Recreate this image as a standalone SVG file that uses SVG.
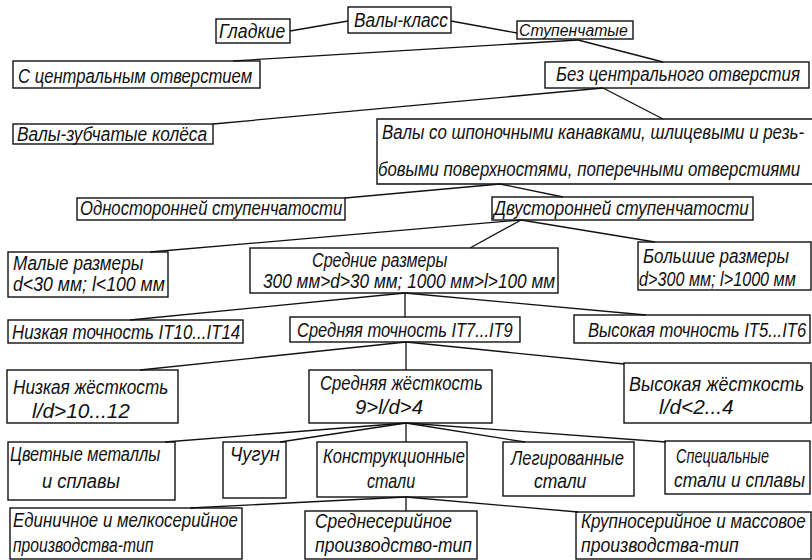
<svg xmlns="http://www.w3.org/2000/svg" width="812" height="560" viewBox="0 0 812 560">
<style>
.b{fill:none;stroke:#111;stroke-width:1.4}
.c line{stroke:#111;stroke-width:1.3}
text{font-family:"Liberation Sans Narrow","Liberation Sans",sans-serif;font-style:italic;font-size:21px;fill:#111}
</style>
<rect width="812" height="560" fill="#fff"/>
<g class="c" id="connectors">
<line x1="290" y1="31" x2="348" y2="21"/>
<line x1="451" y1="21" x2="517" y2="33"/>
<line x1="233" y1="61" x2="578" y2="40"/>
<line x1="578" y1="40" x2="663" y2="62"/>
<line x1="213" y1="124" x2="603" y2="88"/>
<line x1="603" y1="88" x2="663" y2="119"/>
<line x1="345" y1="198" x2="500" y2="184"/>
<line x1="500" y1="184" x2="563" y2="197"/>
<line x1="150" y1="252" x2="521" y2="220"/>
<line x1="521" y1="220" x2="470" y2="248"/>
<line x1="521" y1="220" x2="655" y2="242"/>
<line x1="130" y1="320" x2="405" y2="293"/>
<line x1="405" y1="293" x2="405" y2="317"/>
<line x1="405" y1="293" x2="646" y2="315"/>
<line x1="406" y1="342" x2="140" y2="370"/>
<line x1="406" y1="342" x2="406" y2="370"/>
<line x1="406" y1="342" x2="624" y2="364"/>
<line x1="406" y1="423" x2="165" y2="442"/>
<line x1="406" y1="423" x2="280" y2="442"/>
<line x1="406" y1="423" x2="406" y2="442"/>
<line x1="406" y1="423" x2="525" y2="442"/>
<line x1="406" y1="423" x2="666" y2="442"/>
<line x1="406" y1="497" x2="190" y2="508"/>
<line x1="406" y1="497" x2="406" y2="511"/>
<line x1="406" y1="497" x2="578" y2="512"/>
</g>
<g id="n1"><rect class="b" x="348" y="7" width="103" height="26"/><text transform="translate(354,27) scale(.83,1)" textLength="113" lengthAdjust="spacingAndGlyphs">Валы-класс</text></g>
<g id="n2"><rect class="b" x="216" y="19" width="74" height="24"/><text transform="translate(219,38) scale(.83,1)" textLength="80" lengthAdjust="spacingAndGlyphs">Гладкие</text></g>
<g id="n3"><rect class="b" x="517" y="21" width="116" height="18"/><text transform="translate(519,36) scale(.83,1)" textLength="131" lengthAdjust="spacingAndGlyphs" style="font-size:17px">Ступенчатые</text></g>
<g id="n4"><rect class="b" x="13" y="61" width="247" height="27"/><text transform="translate(18,83) scale(.83,1)" textLength="282" lengthAdjust="spacingAndGlyphs">С центральным отверстием</text></g>
<g id="n5"><rect class="b" x="545" y="62" width="264" height="26"/><text transform="translate(556,81) scale(.8,1)" textLength="305" lengthAdjust="spacingAndGlyphs">Без центрального отверстия</text></g>
<g id="n6"><rect class="b" x="13" y="124" width="200" height="20"/><text transform="translate(17,141) scale(.83,1)" textLength="229" lengthAdjust="spacingAndGlyphs">Валы-зубчатые колёса</text></g>
<g id="n7"><path class="b" d="M812,119 H377 V184 H812"/><text transform="translate(382,139) scale(.7,1)" textLength="603" lengthAdjust="spacingAndGlyphs">Валы со шпоночными канавками, шлицевыми и резь-</text><text transform="translate(378,176) scale(.7,1)" textLength="603" lengthAdjust="spacingAndGlyphs">бовыми поверхностями, поперечными отверстиями</text></g>
<g id="n8"><rect class="b" x="77" y="198" width="268" height="22"/><text transform="translate(80,215) scale(.83,1)" textLength="316" lengthAdjust="spacingAndGlyphs">Односторонней ступенчатости</text></g>
<g id="n9"><rect class="b" x="492" y="197" width="261" height="23"/><text transform="translate(494,215) scale(.83,1)" textLength="307" lengthAdjust="spacingAndGlyphs">Двусторонней ступенчатости</text></g>
<g id="n10"><rect class="b" x="8" y="252" width="160" height="45"/><text transform="translate(13,270) scale(.83,1)" textLength="157" lengthAdjust="spacingAndGlyphs">Малые размеры</text><text transform="translate(13,291) scale(.83,1)" textLength="183" lengthAdjust="spacingAndGlyphs">d&lt;30 мм; l&lt;100 мм</text></g>
<g id="n11"><rect class="b" x="250" y="248" width="308" height="45"/><text transform="translate(312,267) scale(.83,1)" textLength="163" lengthAdjust="spacingAndGlyphs">Средние размеры</text><text transform="translate(263,288) scale(.83,1)" textLength="352" lengthAdjust="spacingAndGlyphs">300 мм&gt;d&gt;30 мм; 1000 мм&gt;l&gt;100 мм</text></g>
<g id="n12"><rect class="b" x="638" y="242" width="173" height="48"/><text transform="translate(643,263) scale(.83,1)" textLength="176" lengthAdjust="spacingAndGlyphs">Большие размеры</text><text transform="translate(639,286) scale(.8,1)" textLength="196" lengthAdjust="spacingAndGlyphs">d&gt;300 мм; l&gt;1000 мм</text></g>
<g id="n13"><rect class="b" x="8" y="320" width="235" height="23"/><text transform="translate(12,339) scale(.83,1)" textLength="275" lengthAdjust="spacingAndGlyphs">Низкая точность IT10...IT14</text></g>
<g id="n14"><rect class="b" x="290" y="317" width="230" height="25"/><text transform="translate(297,337) scale(.83,1)" textLength="260" lengthAdjust="spacingAndGlyphs">Средняя точность IT7...IT9</text></g>
<g id="n15"><rect class="b" x="574" y="315" width="236" height="28"/><text transform="translate(588,337) scale(.72,1)" textLength="303" lengthAdjust="spacingAndGlyphs">Высокая точность IT5...IT6</text></g>
<g id="n16"><rect class="b" x="7" y="370" width="171" height="53"/><text transform="translate(13,394) scale(.83,1)" textLength="187" lengthAdjust="spacingAndGlyphs">Низкая жёсткость</text><text transform="translate(32,418) scale(.83,1)" textLength="118" lengthAdjust="spacingAndGlyphs">l/d&gt;10...12</text></g>
<g id="n17"><rect class="b" x="309" y="370" width="183" height="53"/><text transform="translate(320,390) scale(.83,1)" textLength="196" lengthAdjust="spacingAndGlyphs">Средняя жёсткость</text><text transform="translate(355,414) scale(.83,1)" textLength="82" lengthAdjust="spacingAndGlyphs">9&gt;l/d&gt;4</text></g>
<g id="n18"><rect class="b" x="624" y="363" width="187" height="60"/><text transform="translate(629,391) scale(.8,1)" textLength="219" lengthAdjust="spacingAndGlyphs">Высокая жёсткость</text><text transform="translate(659,414) scale(.83,1)" textLength="90" lengthAdjust="spacingAndGlyphs">l/d&lt;2...4</text></g>
<g id="n19"><rect class="b" x="8" y="442" width="167" height="58"/><text transform="translate(10,461) scale(.83,1)" textLength="181" lengthAdjust="spacingAndGlyphs">Цветные металлы</text><text transform="translate(42,488) scale(.83,1)" textLength="94" lengthAdjust="spacingAndGlyphs">и сплавы</text></g>
<g id="n20"><rect class="b" x="223" y="442" width="63" height="56"/><text transform="translate(230,461) scale(.83,1)" textLength="60" lengthAdjust="spacingAndGlyphs">Чугун</text></g>
<g id="n21"><rect class="b" x="317" y="442" width="150" height="55"/><text transform="translate(323,463) scale(.83,1)" textLength="171" lengthAdjust="spacingAndGlyphs">Конструкционные</text><text transform="translate(367,488) scale(.83,1)" textLength="58" lengthAdjust="spacingAndGlyphs">стали</text></g>
<g id="n22"><rect class="b" x="503" y="442" width="131" height="54"/><text transform="translate(511,465) scale(.83,1)" textLength="136" lengthAdjust="spacingAndGlyphs">Легированные</text><text transform="translate(534,488) scale(.83,1)" textLength="63" lengthAdjust="spacingAndGlyphs">стали</text></g>
<g id="n23"><rect class="b" x="665" y="441" width="145" height="53"/><text transform="translate(676,463) scale(.83,1)" textLength="112" lengthAdjust="spacingAndGlyphs">Специальные</text><text transform="translate(674,487) scale(.8,1)" textLength="164" lengthAdjust="spacingAndGlyphs">стали и сплавы</text></g>
<g id="n24"><rect class="b" x="10" y="508" width="232" height="51"/><text transform="translate(13,527) scale(.83,1)" textLength="271" lengthAdjust="spacingAndGlyphs">Единичное и мелкосерийное</text><text transform="translate(13,552) scale(.83,1)" textLength="169" lengthAdjust="spacingAndGlyphs">производства-тип</text></g>
<g id="n25"><rect class="b" x="305" y="511" width="172" height="48"/><text transform="translate(315,528) scale(.83,1)" textLength="165" lengthAdjust="spacingAndGlyphs">Среднесерийное</text><text transform="translate(315,552) scale(.83,1)" textLength="189" lengthAdjust="spacingAndGlyphs">производство-тип</text></g>
<g id="n26"><rect class="b" x="576" y="512" width="235" height="47"/><text transform="translate(581,528) scale(.8,1)" textLength="281" lengthAdjust="spacingAndGlyphs">Крупносерийное и массовое</text><text transform="translate(581,552) scale(.83,1)" textLength="190" lengthAdjust="spacingAndGlyphs">производства-тип</text></g>
</svg>
